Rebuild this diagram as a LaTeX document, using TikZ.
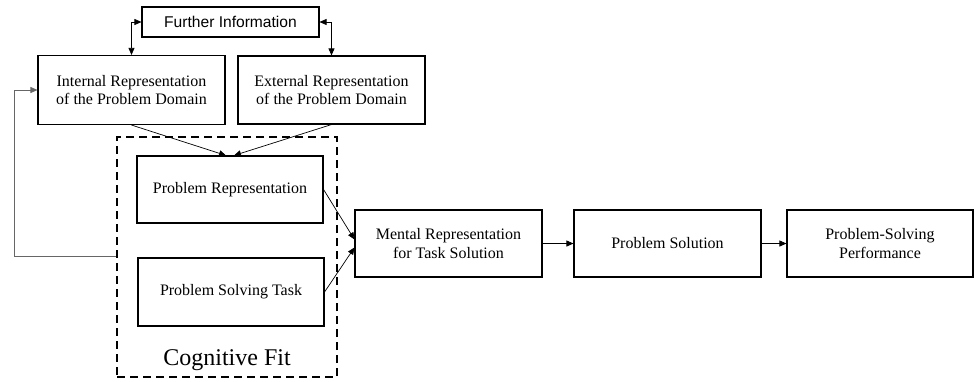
\documentclass[tikz,border=0pt]{standalone}
\usepackage{fontspec}
\setmainfont{Liberation Serif}
\setsansfont{Liberation Sans}
\usetikzlibrary{arrows.meta,positioning,calc}

\tikzset{
  block/.style={draw, line width=1.1pt, align=center, minimum width=187pt, minimum height=67pt,
    font=\fontsize{16}{18.7}\selectfont},
  link/.style={line width=0.7pt, -{Triangle[length=7pt,width=6pt]}}
}

\begin{document}
\begin{tikzpicture}[x=1pt,y=-1pt]
  \useasboundingbox (0,0) rectangle (974,381);

  % top boxes
  \node[block, font=\sffamily\fontsize{15.6}{18}\selectfont, minimum width=177pt, minimum height=30pt]
    (info) at (230.5,22) {Further Information};
  \node[block, minimum height=69pt] (intrep) at (131.5,90) {Internal Representation\\of the Problem Domain};
  \node[block, minimum height=68pt] (extrep) at (331.5,90) {External Representation\\of the Problem Domain};

  % cognitive fit
  \node[draw, dashed, line width=1.1pt, dash pattern=on 8pt off 5pt, minimum width=220pt, minimum height=240pt]
    (fit) at (227,257) {};
  \node[font=\fontsize{24}{28}\selectfont] (fitlabel) at (227,360) {Cognitive Fit};
  \node[block, minimum width=186pt] (probrep) at (230,189.5) {Problem Representation};
  \node[block, minimum width=186pt, minimum height=68pt] (task) at (231,292) {Problem Solving Task};

  % chain
  \node[block] (mental) at (448.5,243.5) {Mental Representation\\for Task Solution};
  \node[block] (solution) at (667.5,243.5) {Problem Solution};
  \node[block, minimum width=186pt] (perf) at (880,243.5) {Problem-Solving\\Performance};

  % arrows
  \draw[link, {Triangle[length=7pt,width=6pt]}-{Triangle[length=7pt,width=6pt]}] (info.west) -| (intrep.north);
  \draw[link, {Triangle[length=7pt,width=6pt]}-{Triangle[length=7pt,width=6pt]}] (info.east) -| (extrep.north);
  \draw[link] (intrep.south) -- ([xshift=-4pt]probrep.north);
  \draw[link] (extrep.south) -- ([xshift=4pt]probrep.north);
  \draw[link] (probrep.east) -- ([yshift=4pt]mental.west);
  \draw[link] (task.east) -- ([yshift=-4pt]mental.west);
  \draw[link] (mental) -- (solution);
  \draw[link] (solution) -- (perf);

  % feedback
  \coordinate (back) at (14,256);
  \draw[link, draw=black!60] (fit.west |- back) -- (back) |- (intrep.west);
\end{tikzpicture}
\end{document}
